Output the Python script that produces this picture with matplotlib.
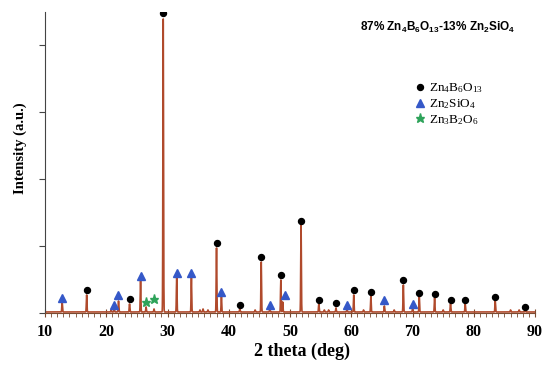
import numpy as np
import matplotlib
matplotlib.use("Agg")
from matplotlib import pyplot as plt
from matplotlib.ticker import MultipleLocator

plt.rcParams['mathtext.default'] = 'regular'

# XRD peaks (2 theta, relative intensity)
peak_pos = [12.8, 16.8, 21.3, 22.0, 23.8, 25.6, 26.5, 27.8, 29.3, 31.5, 33.9, 38.0,
            38.8, 41.8, 45.3, 46.7, 48.5, 48.8, 51.8, 54.7, 57.5, 59.3, 60.4, 63.2,
            65.4, 68.5, 70.0, 71.1, 73.6, 76.2, 78.6, 83.5, 88.4,
            20.8, 35.3, 35.8, 36.6, 44.3, 55.6, 56.3, 62.0, 67.0, 75.0, 86.0, 87.4]
peak_int = [10, 17, 4, 11, 8, 31, 5, 3, 293, 34, 34, 64,
            16, 3, 50, 3, 32, 10, 87, 8, 4, 3, 17, 16,
            6, 27, 3, 16, 14, 8, 8, 11, 3,
            2, 2, 3, 2, 2, 2, 2, 2, 2, 2, 2, 2]

# phase markers
zb_x = [16.8, 23.8, 29.3, 38.0, 41.8, 45.3, 48.5, 51.8, 54.7, 57.5, 60.4, 63.2,
        68.5, 71.1, 73.6, 76.2, 78.6, 83.5, 88.4]
zb_y = [23, 14, 300, 70, 8, 56, 38, 92, 13, 10, 23, 21, 33, 20, 19, 13, 13, 16, 6]
zs_x = [12.8, 21.3, 22.0, 25.6, 31.5, 33.9, 38.8, 46.7, 49.2, 59.3, 65.4, 70.0]
zs_y = [15, 8, 18, 37, 40, 40, 21, 8, 18, 8, 13, 9]
zb2_x = [26.5, 27.8]
zb2_y = [11, 14]

tth = np.arange(10, 90, 0.01)
counts = np.ones_like(tth)
for p, h in zip(peak_pos, peak_int):
    counts += h * np.exp(-0.5 * ((tth - p) / 0.05) ** 2)

fig = plt.figure(figsize=(5.5, 3.69), dpi=100)
ax = fig.add_axes([0.0818, 0.1518, 0.891, 0.8157])

ax.plot(tth, counts, color='#b04a2c', lw=1.2)
ax.plot(zb_x, zb_y, 'o', color='black', ms=4.3, ls='none', label=r'Zn$_4$B$_6$O$_{13}$')
ax.plot(zs_x, zs_y, '^', color='#3558c8', ms=5.5, ls='none', label=r'Zn$_2$SiO$_4$')
ax.plot(zb2_x, zb2_y, '*', color='#2ea35a', ms=6.5, ls='none', label=r'Zn$_3$B$_2$O$_6$')

ax.set_xlim(10, 90)
ax.set_ylim(0, 301)
ax.xaxis.set_major_locator(MultipleLocator(10))
ax.xaxis.set_minor_locator(MultipleLocator(1))
ax.yaxis.set_major_locator(MultipleLocator(67))
ax.set_yticklabels([])
ax.tick_params(axis='x', which='major', direction='inout', length=6, color='#7a4a30', pad=5)
ax.tick_params(axis='x', which='minor', direction='out', length=3, color='#7a4a30')
ax.tick_params(axis='y', direction='out', length=4, color='#444444')
for lab in ax.get_xticklabels():
    lab.set_fontfamily('Liberation Serif')
    lab.set_fontweight('bold')
    lab.set_fontsize(11.5)
ax.spines['top'].set_visible(False)
ax.spines['right'].set_visible(False)
ax.spines['left'].set_color('#444444')
ax.spines['bottom'].set_color('#7a4a30')

ax.set_xlabel('2 theta (deg)', family='Liberation Serif', weight='bold', fontsize=13)
ax.xaxis.set_label_coords(0.524, -0.098)
ax.set_ylabel('Intensity (a.u.)', family='Liberation Serif', weight='bold', fontsize=10.5)
ax.yaxis.set_label_coords(-0.051, 0.548)
ax.yaxis.label.set_va('center')

fig.text(0.795, 0.925, r'87% Zn$_4$B$_6$O$_{13}$-13% Zn$_2$SiO$_4$', family='Liberation Sans',
         weight='bold', fontsize=8.5, ha='center', va='center')

ax.legend(loc='upper left', bbox_to_anchor=(0.73, 0.80), frameon=False,
          prop={'family': 'Liberation Serif', 'size': 9.5}, handletextpad=0.1,
          handlelength=1.2, labelspacing=0.15, borderpad=0.2)

fig.savefig('out.png', dpi=100)
